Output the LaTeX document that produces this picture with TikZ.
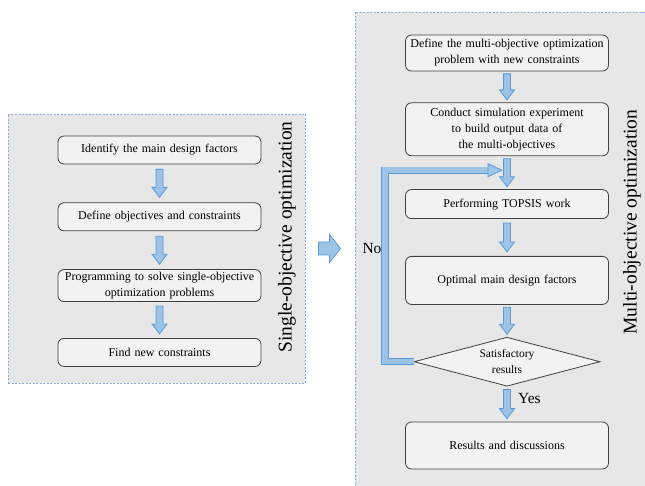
\documentclass[tikz,border=0pt]{standalone}
\usepackage{fontspec}
\setmainfont{Liberation Serif}
\usetikzlibrary{positioning,shapes,arrows,calc}
\definecolor{panelgray}{HTML}{E7E7E7}
\definecolor{boxfill}{HTML}{F2F2F2}
\definecolor{boxline}{HTML}{404040}
\definecolor{dashblue}{HTML}{8FAADC}
\definecolor{arrowfill}{HTML}{9DC3E6}
\definecolor{arrowline}{HTML}{5B9BD5}
\tikzset{
    block/.style={rectangle, draw=boxline, fill=boxfill, line width=0.8pt, text width=196pt, text centered, rounded corners=6pt, minimum width=203pt, minimum height=28pt, inner sep=2pt, font=\fontsize{12}{16}\selectfont},
    panel/.style={rectangle, draw=dashblue, fill=panelgray, dash pattern=on 2pt off 1.5pt, line width=0.9pt},
    flowarrow/.style={draw=arrowline, fill=arrowfill, line width=0.8pt, line join=miter},
    sidelabel/.style={rotate=90, font=\fontsize{19.5}{22}\selectfont}
}
\newcommand{\flowdown}[3][4]{%
    \draw[flowarrow] ($(#2.south)+(-3.5,#1)$) -- ($(#2.south)+(3.5,#1)$)
        -- ($(#3.north)+(3.5,-#1-10)$) -- ($(#3.north)+(7.5,-#1-10)$)
        -- ($(#3.north)+(0,-#1)$) -- ($(#3.north)+(-7.5,-#1-10)$)
        -- ($(#3.north)+(-3.5,-#1-10)$) -- cycle;}

\begin{document}
\begin{tikzpicture}[x=1pt, y=-1pt, node distance=38pt, >=stealth]
        \useasboundingbox (0,0) rectangle (645,486);
        \clip (0,0) rectangle (645,486);
        \node[panel, minimum width=297pt, minimum height=269pt] (singlepanel) at (156.5,248.5) {};
        \node[panel, minimum width=300pt, minimum height=488pt] (multipanel) at (505,256) {};

        \node[block] (identify) at (159.5,150) {Identify the main design factors};
        \node[block, below=of identify] (objectives) {Define objectives and constraints};
        \node[block, minimum height=32pt, below=of objectives] (programming) {Programming to solve single-objective\\optimization problems};
        \node[block, below=36pt of programming] (newcons) {Find new constraints};
        \node[sidelabel] (singlelabel) at (287,237) {Single-objective optimization};

        \node[block, minimum height=36pt] (defmulti) at (507,53) {Define the multi-objective optimization\\problem with new constraints};
        \node[block, minimum height=53pt, below=31pt of defmulti] (simulate) {Conduct simulation experiment\\to build output data of\\the multi-objectives};
        \node[block, minimum height=29pt, below=33pt of simulate] (topsis) {Performing TOPSIS work};
        \node[block, minimum height=48pt, below=37pt of topsis] (optimal) {Optimal main design factors};
        \node[diamond, draw=boxline, fill=boxfill, line width=0.8pt, aspect=3.8, inner sep=0pt, minimum width=186pt, minimum height=49pt, align=center, font=\fontsize{11.5}{16}\selectfont, below=32pt of optimal] (satisfy) {Satisfactory\\results};
        \node[block, minimum height=47pt, below=35pt of satisfy] (results) {Results and discussions};
        \node[sidelabel] (multilabel) at (632,222) {Multi-objective optimization};

        \flowdown[5]{identify}{objectives}
        \flowdown[5]{objectives}{programming}
        \flowdown[4]{programming}{newcons}
        \flowdown[2.5]{defmulti}{simulate}
        \flowdown[2.5]{simulate}{topsis}
        \flowdown[4]{topsis}{optimal}
        \flowdown[2.5]{optimal}{satisfy}
        \flowdown[3]{satisfy}{results}

        \coordinate (midtip) at ($(multipanel.west |- singlepanel.east)+(-14,0)$);
        \draw[flowarrow] ($(singlepanel.east)+(13,-6.5)$) -- ($(midtip)+(-11,-6.5)$) -- ($(midtip)+(-11,-14)$)
            -- (midtip) -- ($(midtip)+(-11,14)$) -- ($(midtip)+(-11,6.5)$) -- ($(singlepanel.east)+(13,6.5)$) -- cycle;

        \coordinate (noend) at ($(simulate.south)+(-19,14)$);
        \coordinate (noleft) at ($(satisfy.west)+(-28.5,0)$);
        \draw[draw=arrowline, double=arrowfill, double distance=5.5pt, line width=0.9pt] (satisfy.west) -- (noleft) |- (noend);
        \draw[flowarrow] ($(noend)+(0,-6.5)$) -- ($(noend)+(14,0)$) -- ($(noend)+(0,6.5)$) -- cycle;

        \node[font=\fontsize{15.5}{18}\selectfont] (nolabel) at (372,248.5) {No};
        \node[font=\fontsize{15.5}{18}\selectfont, anchor=west, inner sep=0pt] (yeslabel) at ($(satisfy.south)+(11,12)$) {Yes};
    \end{tikzpicture}
\end{document}
